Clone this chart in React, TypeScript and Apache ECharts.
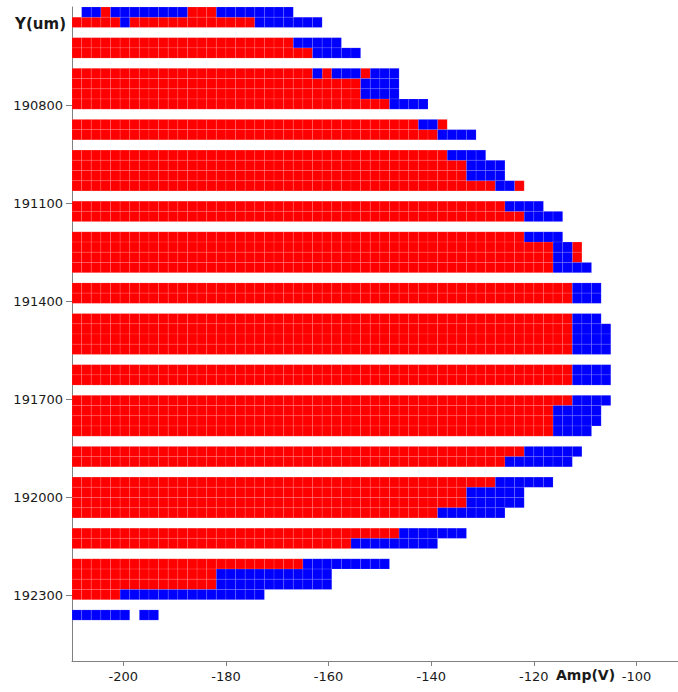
import React, { useEffect, useRef } from "react";
import * as echarts from "echarts";

// Shmoo scan: drive amplitude (V) swept along X, stage position Y (um) down the page.
const AMP_FIRST = -210; // left edge of the first amplitude column
const AMP_STEP = 1.875; // amplitude step per column
const Y_STEP = 31.25; // pitch between scan lines

// Each scan line: [Y centre (um), runs from AMP_FIRST upward].
// F = fail (red), P = pass (blue), _ = not measured; number = columns in the run.
const scanLines: [number, string][] = [
  [190515.625, "_1 P2 F1 P8 F3 P8"],
  [190546.875, "F5 P1 F13 P7"],
  [190609.375, "F23 P5"],
  [190640.625, "F25 P5"],
  [190703.125, "F25 P1 F1 P3 F1 P3"],
  [190734.375, "F30 P4"],
  [190765.625, "F30 P4"],
  [190796.875, "F33 P4"],
  [190859.375, "F36 P2 F1"],
  [190890.625, "F38 P4"],
  [190953.125, "F39 P4"],
  [190984.375, "F41 P4"],
  [191015.625, "F41 P4"],
  [191046.875, "F44 P2 F1"],
  [191109.375, "F45 P4"],
  [191140.625, "F47 P4"],
  [191203.125, "F47 P4"],
  [191234.375, "F50 P2 F1"],
  [191265.625, "F50 P2 F1"],
  [191296.875, "F50 P4"],
  [191359.375, "F52 P3"],
  [191390.625, "F52 P3"],
  [191453.125, "F52 P3"],
  [191484.375, "F52 P4"],
  [191515.625, "F52 P4"],
  [191546.875, "F52 P4"],
  [191609.375, "F52 P4"],
  [191640.625, "F52 P4"],
  [191703.125, "F52 P4"],
  [191734.375, "F50 P5"],
  [191765.625, "F50 P5"],
  [191796.875, "F50 P4"],
  [191859.375, "F47 P6"],
  [191890.625, "F45 P7"],
  [191953.125, "F44 P6"],
  [191984.375, "F41 P6"],
  [192015.625, "F41 P6"],
  [192046.875, "F38 P7"],
  [192109.375, "F34 P7"],
  [192140.625, "F29 P9"],
  [192203.125, "F24 P9"],
  [192234.375, "F15 P12"],
  [192265.625, "F15 P12"],
  [192296.875, "F5 P15"],
  [192359.375, "P6 _1 P2"],
];

const ampTicks = [-200, -180, -160, -140, -120, -100];
const yTicks = [190800, 191100, 191400, 191700, 192000, 192300];

const FONT = "DejaVu Sans, Verdana, sans-serif";

function expandCells() {
  const fail: number[][] = [];
  const pass: number[][] = [];
  scanLines.forEach(([y, runs]) => {
    let col = 0;
    runs.split(" ").forEach((tok) => {
      const code = tok[0];
      const n = Number(tok.slice(1));
      for (let k = 0; k < n; k++) {
        const amp = AMP_FIRST + AMP_STEP * (col + 0.5);
        if (code === "F") fail.push([amp, y]);
        else if (code === "P") pass.push([amp, y]);
        col++;
      }
    });
  });
  return { fail, pass };
}

const renderCell = (_params: any, api: any) => {
  const a = api.value(0);
  const y = api.value(1);
  const p0 = api.coord([a - AMP_STEP / 2, y - Y_STEP / 2]);
  const p1 = api.coord([a + AMP_STEP / 2, y + Y_STEP / 2]);
  return {
    type: "rect",
    shape: {
      x: Math.min(p0[0], p1[0]),
      y: Math.min(p0[1], p1[1]),
      width: Math.abs(p1[0] - p0[0]),
      height: Math.abs(p1[1] - p0[1]),
    },
    style: {
      fill: api.visual("color"),
      stroke: "rgba(255,255,255,0.18)",
      lineWidth: 0.6,
    },
  };
};

export default function App() {
  const ref = useRef<HTMLDivElement>(null);

  useEffect(() => {
    document.body.style.margin = "0";
    if (!ref.current) return;
    const chart = echarts.init(ref.current, undefined, { renderer: "svg" });
    const { fail, pass } = expandCells();
    const axisColor = "#808080";
    const labelStyle = { color: "#1a1a1a", fontSize: 13, fontFamily: FONT };

    chart.setOption({
      animation: false,
      backgroundColor: "#ffffff",
      grid: { left: 72, right: 0, top: 7, bottom: 31, outerBoundsMode: "none" },
      xAxis: {
        type: "value",
        min: -210,
        max: -91.9,
        name: "Amp(V)",
        nameLocation: "end",
        nameGap: -122,
        nameTextStyle: {
          fontFamily: FONT,
          fontWeight: "bold",
          fontSize: 14,
          color: "#1a1a1a",
          align: "left",
          verticalAlign: "top",
          padding: [7, 0, 0, 0],
        },
        axisLine: { lineStyle: { color: axisColor, width: 1 } },
        axisTick: { customValues: ampTicks, length: 5, lineStyle: { color: axisColor } },
        axisLabel: { customValues: ampTicks, margin: 9, ...labelStyle },
        splitLine: { show: false },
      },
      yAxis: {
        type: "value",
        inverse: true,
        min: 190500,
        max: 192500,
        name: "Y(um)",
        nameLocation: "start",
        nameGap: -17,
        nameTextStyle: {
          fontFamily: FONT,
          fontWeight: "bold",
          fontSize: 15,
          color: "#1a1a1a",
          align: "right",
          verticalAlign: "middle",
          padding: [0, 6, 0, 0],
        },
        axisLine: { lineStyle: { color: axisColor, width: 1 } },
        axisTick: { customValues: yTicks, length: 6, lineStyle: { color: axisColor } },
        axisLabel: {
          customValues: yTicks,
          margin: 9,
          formatter: (v: number) => String(v),
          ...labelStyle,
        },
        splitLine: { show: false },
      },
      series: [
        {
          type: "custom",
          name: "Fail",
          renderItem: renderCell,
          encode: { x: 0, y: 1 },
          itemStyle: { color: "#ff0000" },
          data: fail,
        },
        {
          type: "custom",
          name: "Pass",
          renderItem: renderCell,
          encode: { x: 0, y: 1 },
          itemStyle: { color: "#0000ff" },
          data: pass,
        },
      ],
    });

    return () => chart.dispose();
  }, []);

  return <div ref={ref} style={{ width: 678, height: 692 }} />;
}
